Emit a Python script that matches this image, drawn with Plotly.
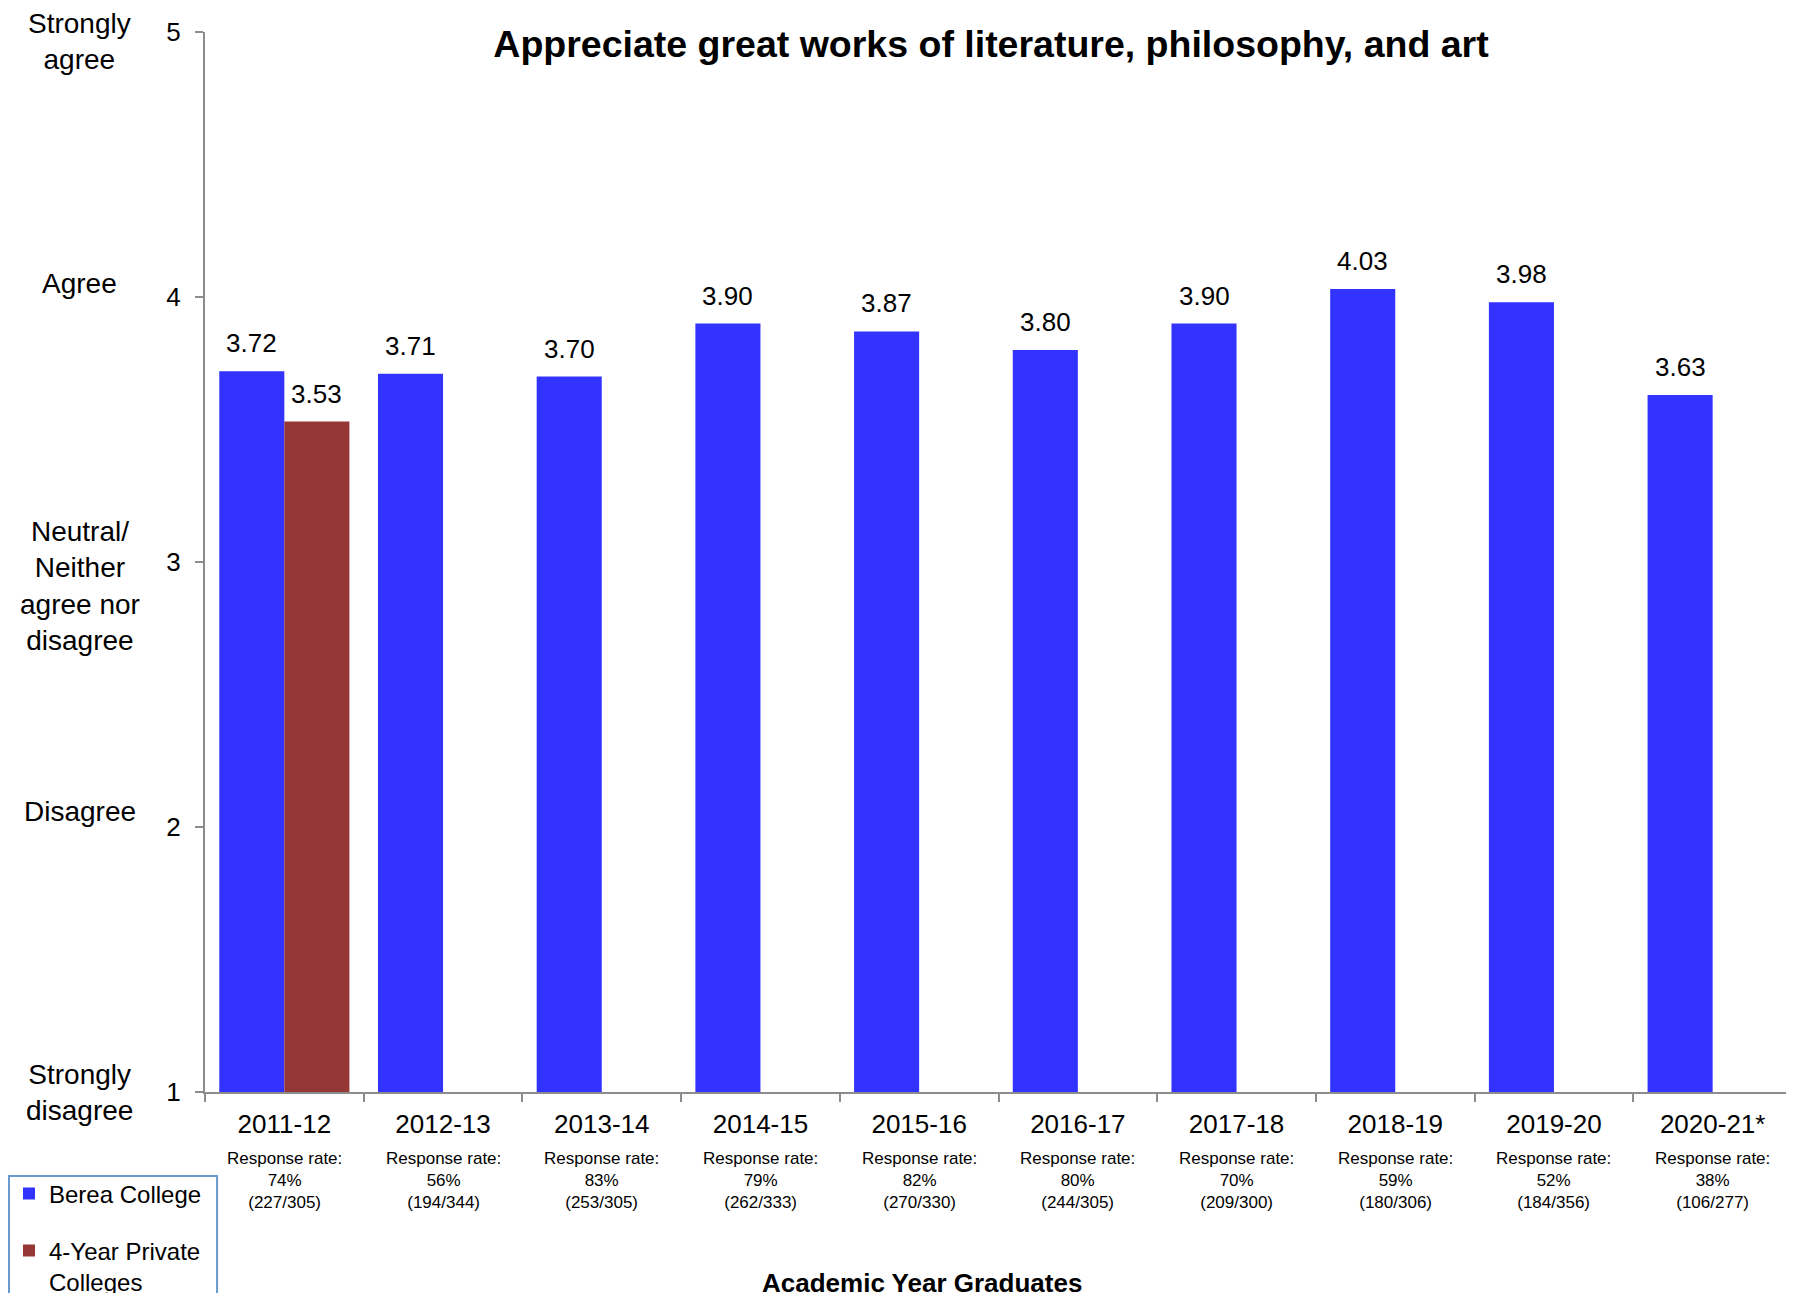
import plotly.graph_objects as go

FONT = "Arial, Liberation Sans, sans-serif"
BLUE = "#3333FF"
BROWN = "#953735"
AXIS = "#8C8C8C"
LEGEND_EDGE = "#6A9AD0"

years = ["2011-12", "2012-13", "2013-14", "2014-15", "2015-16",
         "2016-17", "2017-18", "2018-19", "2019-20", "2020-21*"]
berea = [3.72, 3.71, 3.70, 3.90, 3.87, 3.80, 3.90, 4.03, 3.98, 3.63]
private = [3.53, None, None, None, None, None, None, None, None, None]
rates = ["74%", "56%", "83%", "79%", "82%", "80%", "70%", "59%", "52%", "38%"]
counts = ["227/305", "194/344", "253/305", "262/333", "270/330",
          "244/305", "209/300", "180/306", "184/356", "106/277"]
scale_vals = [5, 4, 3, 2, 1]
scale_text = ["Strongly<br>agree", "Agree",
              "Neutral/<br>Neither<br>agree nor<br>disagree",
              "Disagree", "Strongly<br>disagree"]
# where each scale label sits (data units)
scale_pos = [4.965, 4.05, 2.91, 2.06, 1.0]

BARGAP = 0.18
# page body has an 8px margin, so the figure is 8px smaller than the window
W, H = 1786, 1285
ML, MR, MT, MB = 197, 2, 24, 201
# half a bar in pixels: value labels sit over each bar of the group
half_bar = (W - ML - MR) / len(years) * (1 - BARGAP) / 4

fig = go.Figure()
fig.add_bar(x=years, y=berea, name="Berea College", marker_color=BLUE,
            marker_line_width=0, legendgroup="a")
fig.add_bar(x=years, y=private, name="4-Year Private<br>Colleges",
            marker_color=BROWN, marker_line_width=0, legendgroup="b")

for series, shift in ((berea, -half_bar), (private, half_bar)):
    for yr, v in zip(years, series):
        if v is None:
            continue
        fig.add_annotation(text=f"{v:.2f}", x=yr, xref="x", y=v, yref="y",
                           xshift=shift, yshift=28, yanchor="middle",
                           showarrow=False, font=dict(size=26, color="black"))

for lab, pos in zip(scale_text, scale_pos):
    fig.add_annotation(text=lab, x=-0.079, xref="paper", y=pos, yref="y",
                       showarrow=False, font=dict(size=28, color="black"),
                       align="center", xanchor="center", yanchor="middle")

for yr, r, c in zip(years, rates, counts):
    fig.add_annotation(text=f"Response rate:<br>{r}<br>({c})", x=yr, xref="x",
                       y=-0.0515, yref="paper", yanchor="top", showarrow=False,
                       font=dict(size=17, color="black"), align="center")

fig.add_annotation(text="<b>Academic Year Graduates</b>", x=0.452, xref="paper",
                   y=-0.180, yref="paper", yanchor="middle", showarrow=False,
                   font=dict(size=26, color="black"))

# legend frame, running off the bottom of the page like the original
fig.add_shape(type="rect", xref="paper", yref="paper",
              x0=-0.1235, x1=0.0076, y0=-0.0792, y1=-0.25,
              line=dict(color=LEGEND_EDGE, width=2), fillcolor="white",
              layer="below")

fig.update_layout(
    width=W, height=H,
    margin=dict(l=ML, r=MR, t=MT, b=MB, autoexpand=False),
    paper_bgcolor="white", plot_bgcolor="white",
    font=dict(family=FONT, color="black"),
    title=dict(text="<b>Appreciate great works of literature, philosophy, and art</b>",
               x=0.5504, xanchor="center", y=1 - 36 / H, yanchor="middle",
               font=dict(size=37.5, color="black")),
    barmode="group", bargap=BARGAP, bargroupgap=0,
    showlegend=True,
    legend=dict(x=-0.1235, xanchor="left", y=-0.0748, yanchor="top",
                borderwidth=0, bgcolor="rgba(0,0,0,0)",
                font=dict(size=24, color="black"), tracegroupgap=23,
                itemwidth=30, valign="top", traceorder="grouped"),
)
fig.update_xaxes(type="category", showline=True, linecolor=AXIS, linewidth=2,
                 ticks="outside", tickson="boundaries", ticklen=8,
                 tickcolor=AXIS, tickwidth=2, showgrid=False,
                 tickfont=dict(size=26, color="black"), ticklabelstandoff=8)
fig.update_yaxes(range=[1, 5], tickvals=scale_vals, showline=True,
                 linecolor=AXIS, linewidth=2, ticks="outside", ticklen=8,
                 tickcolor=AXIS, tickwidth=2, showgrid=False, zeroline=False,
                 tickfont=dict(size=26, color="black"), ticklabelstandoff=9)

fig.write_html("out.html")
